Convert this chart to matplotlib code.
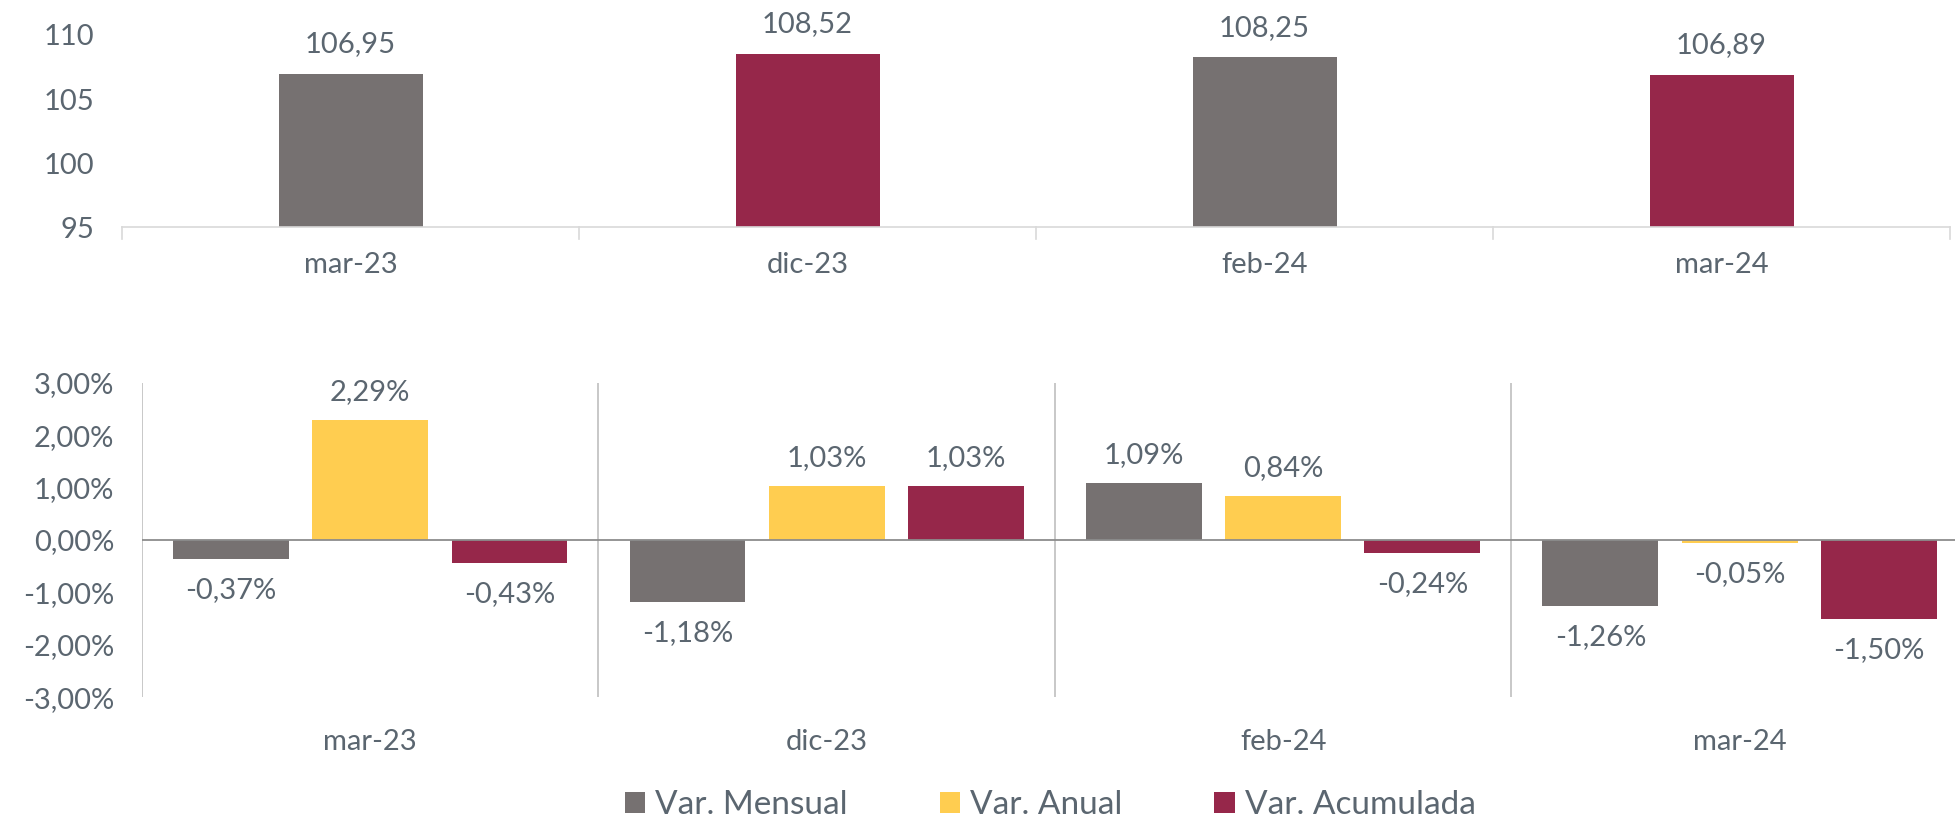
import matplotlib
matplotlib.use("Agg")
import matplotlib.pyplot as plt
import numpy as np
from matplotlib.patches import Patch

# ---- data ----
categories = ["mar-23", "dic-23", "feb-24", "mar-24"]
index_values = [106.95, 108.52, 108.25, 106.89]
var_mensual = [-0.37, -1.18, 1.09, -1.26]
var_anual = [2.29, 1.03, 0.84, -0.05]
var_acumulada = [-0.43, 1.03, -0.24, -1.50]
series_names = ["Var. Mensual", "Var. Anual", "Var. Acumulada"]

GREY = "#767171"
YELLOW = "#FFCD50"
RED = "#96274A"
TXT = "#5B6670"
FS = 21

plt.rcParams['font.family'] = ['Lato', 'DejaVu Sans']

def fmt(v, dec=2, pct=False):
    s = f"{v:.{dec}f}".replace(".", ",")
    return s + ("%" if pct else "")

fig = plt.figure(figsize=(19.56, 8.25), dpi=100)

# ---------- top chart ----------
ax1 = fig.add_axes([0.0624, 0.7248, 0.9346, 0.2328])
x = np.arange(len(categories))
top_colors = [GREY, RED, GREY, RED]
ax1.bar(x, [v - 95 for v in index_values], bottom=95, width=0.315, color=top_colors)
for xi, v in zip(x, index_values):
    ax1.annotate(fmt(v), (xi, v), xytext=(0, 12), textcoords="offset points",
                 ha="center", va="bottom", fontsize=FS, color=TXT)
ax1.set_ylim(95, 110)
ax1.set_xlim(-0.5, len(categories) - 0.5)
ax1.set_yticks([95, 100, 105, 110])
ax1.set_yticklabels(["95", "100", "105", "110"])
ax1.set_xticks(x)
ax1.set_xticklabels(categories)
for s in ["top", "right", "left"]:
    ax1.spines[s].set_visible(False)
ax1.spines["bottom"].set_color("#D9D9D9")
ax1.spines["bottom"].set_linewidth(1.2)
ax1.tick_params(axis="y", length=0, pad=20, labelsize=FS, labelcolor=TXT)
ax1.tick_params(axis="x", length=0, pad=18, labelsize=FS, labelcolor=TXT)
for b in np.arange(-0.5, len(categories), 1.0):
    ax1.plot([b, b], [0, -0.06], transform=ax1.get_xaxis_transform(),
             color="#D9D9D9", lw=1.2, clip_on=False)

# ---------- bottom chart ----------
ax2 = fig.add_axes([0.0726, 0.155, 0.9335, 0.3808])
w = 0.254
off = 0.305
series = [var_mensual, var_anual, var_acumulada]
cols = [GREY, YELLOW, RED]
for i, (vals, c) in enumerate(zip(series, cols)):
    pos = x + (i - 1) * off
    ax2.bar(pos, vals, width=w, color=c, zorder=3)
    for p, v in zip(pos, vals):
        if v >= 0:
            ax2.annotate(fmt(v, pct=True), (p, v), xytext=(0, 11), textcoords="offset points",
                         ha="center", va="bottom", fontsize=FS, color=TXT)
        else:
            ax2.annotate(fmt(v, pct=True), (p, v), xytext=(0, -13), textcoords="offset points",
                         ha="center", va="top", fontsize=FS, color=TXT)
ax2.set_ylim(-3, 3)
ax2.set_xlim(-0.5, len(categories) - 0.5)
yt = [-3, -2, -1, 0, 1, 2, 3]
ax2.set_yticks(yt)
ax2.set_yticklabels([fmt(v, pct=True) for v in yt])
ax2.set_xticks(x)
ax2.set_xticklabels(categories)
for s in ["top", "right", "bottom", "left"]:
    ax2.spines[s].set_visible(False)
ax2.axhline(0, color="#8C8C8C", lw=1.3, zorder=4)
for b in np.arange(-0.5, len(categories), 1.0):
    ax2.axvline(b, color="#BFBFBF", lw=1.2, zorder=1)
ax2.tick_params(axis="y", length=0, pad=20, labelsize=FS, labelcolor=TXT)
ax2.tick_params(axis="x", length=0, pad=23, labelsize=FS, labelcolor=TXT)

handles = [Patch(facecolor=c, edgecolor="none") for c in cols]
fig.legend(handles, series_names, loc="center", bbox_to_anchor=(0.537, 0.024),
           ncol=3, frameon=False, fontsize=24, labelcolor=TXT,
           handlelength=0.62, handleheight=0.62, handletextpad=0.3, columnspacing=2.75)

fig.savefig("out.png", dpi=100)
